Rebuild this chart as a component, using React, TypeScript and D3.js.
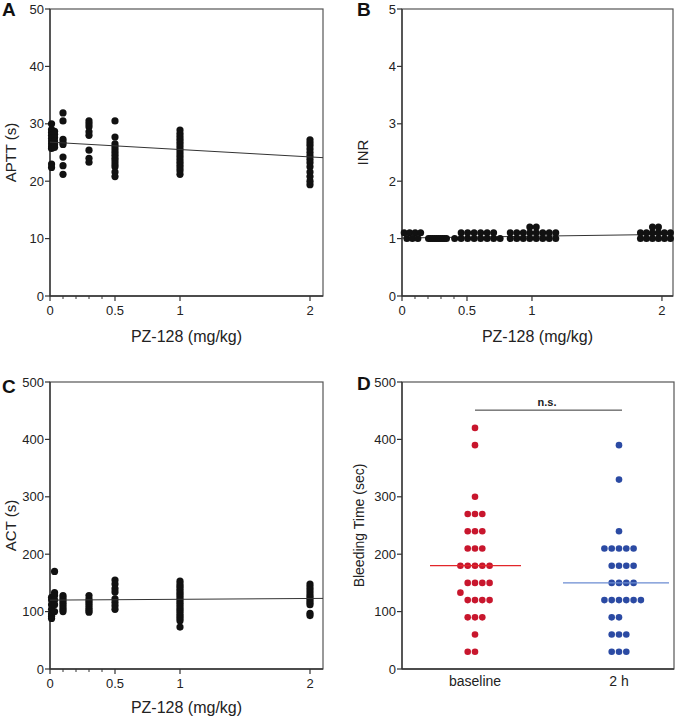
import React from 'react';
import * as d3 from 'd3';

const FONT = "'Liberation Sans', Arial, Helvetica, sans-serif";

// ---------- shared dose axis ----------
const doseTicks = [0, 0.5, 1, 2];
const doseMinorTicks = [0.1, 0.2, 0.3, 0.4];
const scatterDoses = [0.012, 0.035, 0.1, 0.3, 0.5, 1, 2];

// ---------- Panel A: APTT ----------
const apttTicks = [0, 10, 20, 30, 40, 50];
const apttValues = [
  [30.0, 29.0, 28.5, 28.0, 27.5, 27.0, 26.5, 26.0, 25.7, 23.0, 22.4],
  [28.7, 28.2, 27.6, 27.0, 26.4, 25.9],
  [31.9, 30.5, 27.3, 26.8, 26.4, 24.2, 22.7, 21.2],
  [30.5, 30.0, 29.5, 28.6, 28.0, 25.4, 24.0, 23.3],
  [30.5, 27.7, 26.5, 26.0, 25.5, 25.0, 24.5, 24.0, 23.5, 23.0, 22.5, 21.6, 20.8],
  [28.9, 28.3, 27.8, 27.3, 26.8, 26.3, 25.8, 25.3, 24.8, 24.3, 23.8, 23.3, 22.8, 22.3, 21.8, 21.2],
  [27.2, 26.7, 26.2, 25.6, 25.0, 24.4, 23.8, 23.2, 22.5, 21.6, 20.8, 20.0, 19.4],
];
const apttFit = [26.8, 24.1]; // fitted value at dose 0 and at axis end

// ---------- Panel B: INR ----------
const inrTicks = [0, 1, 2, 3, 4, 5];
const inrGroupDoses = [0.08, 0.273, 0.58, 1.008, 1.95];
const inrValues = [
  [1.1, 1.1, 1.1, 1.1, 1.0, 1.0, 1.0],
  [1.0, 1.0, 1.0, 1.0, 1.0, 1.0, 1.0, 1.0, 1.0, 1.0],
  [1.1, 1.1, 1.1, 1.1, 1.1, 1.1, 1.0, 1.0, 1.0, 1.0, 1.0, 1.0, 1.0, 1.0],
  [1.2, 1.2, 1.1, 1.1, 1.1, 1.1, 1.1, 1.1, 1.1, 1.1, 1.0, 1.0, 1.0, 1.0, 1.0, 1.0, 1.0, 1.0],
  [1.2, 1.2, 1.1, 1.1, 1.1, 1.1, 1.1, 1.1, 1.0, 1.0, 1.0, 1.0, 1.0, 1.0],
];
const inrFit = [1.01, 1.075];

// ---------- Panel C: ACT ----------
const actTicks = [0, 100, 200, 300, 400, 500];
const actValues = [
  [125, 120, 112, 104, 96, 92, 88],
  [170, 133, 128, 120, 112, 100],
  [128, 124, 120, 116, 112, 108, 104, 100],
  [128, 122, 118, 114, 110, 106, 102, 99],
  [155, 148, 140, 134, 122, 116, 110, 104],
  [153, 148, 144, 140, 136, 132, 128, 124, 120, 116, 112, 108, 104, 100, 96, 92, 88, 84, 73],
  [148, 143, 138, 133, 128, 124, 120, 116, 112, 97, 93],
];
const actFit = [120, 123];

// ---------- Panel D: Bleeding time ----------
const bleedCategories = ['baseline', '2 h'];
const bleedTicks = [0, 100, 200, 300, 400, 500];
const bleedBaseline = [420, 390, 300, 270, 270, 270, 240, 240, 240, 210, 210, 210,
  180, 180, 180, 180, 180, 150, 150, 150, 150, 133, 120, 120, 120, 120, 90, 90, 90, 60, 30, 30];
const bleed2h = [390, 330, 240, 210, 210, 210, 210, 210, 180, 180, 180, 180, 150, 150, 150, 150,
  120, 120, 120, 120, 120, 120, 90, 90, 60, 60, 60, 30, 30, 30];
const bleedMedians = [180, 150];
const bleedColors = ['#c8162d', '#2b4aa3'];
const medianColors = ['#e2262a', '#6b8bd2'];

type F = { l: number; t: number; r: number; b: number };

function Axes({ f, y, yTicks, x, xTicks, minor }: any) {
  return (
    <g>
      <rect x={f.l} y={f.t} width={f.r - f.l} height={f.b - f.t} fill="none" stroke="#555" strokeWidth={1.2} />
      <line x1={f.l} x2={f.l} y1={f.t} y2={f.b} stroke="#333" strokeWidth={1.3} />
      <line x1={f.l} x2={f.r} y1={f.b} y2={f.b} stroke="#333" strokeWidth={1.3} />
      {yTicks.map((v: number) => (
        <g key={'y' + v}>
          <line x1={f.l - 5} x2={f.l} y1={y(v)} y2={y(v)} stroke="#333" strokeWidth={1.2} />
          <text x={f.l - 6} y={y(v)} textAnchor="end" dominantBaseline="central" fontSize={13} fill="#222">{v}</text>
        </g>
      ))}
      {xTicks &&
        xTicks.map((v: number) => (
          <g key={'x' + v}>
            <line x1={x(v)} x2={x(v)} y1={f.b} y2={f.b + 5} stroke="#333" strokeWidth={1.2} />
            <text x={x(v)} y={f.b + 19} textAnchor="middle" fontSize={13} fill="#222">{String(v)}</text>
          </g>
        ))}
      {minor &&
        minor.map((v: number) => (
          <line key={'m' + v} x1={x(v)} x2={x(v)} y1={f.b} y2={f.b + 3} stroke="#333" strokeWidth={1} />
        ))}
    </g>
  );
}

function swarm(values: number[], cx: number, y: (v: number) => number, step: number) {
  const sorted = [...values].sort((a, b) => b - a);
  const placed: { x: number; y: number }[] = [];
  const order = [0, -1, 1, 2, -2, 3, -3, 4, -4, 5, -5];
  for (const v of sorted) {
    const py = y(v);
    for (const k of order) {
      const px = cx + k * step;
      if (!placed.some((p) => Math.abs(p.x - px) < step - 0.5 && Math.abs(p.y - py) < 10)) {
        placed.push({ x: px, y: py });
        break;
      }
    }
  }
  return placed;
}

function rowSpread(values: number[], cx: number, x: any, y: any, spacing: number) {
  const rows = d3.groups(values, (v) => v);
  const pts: { x: number; y: number }[] = [];
  rows.forEach(([v, arr]) => {
    const n = arr.length;
    arr.forEach((_, i) => pts.push({ x: cx + (i - (n - 1) / 2) * spacing, y: y(v) }));
  });
  return pts;
}

export default function App() {
  const fA: F = { l: 50, t: 9, r: 323, b: 296 };
  const fB: F = { l: 402, t: 9, r: 673, b: 296 };
  const fC: F = { l: 50, t: 382, r: 323, b: 669 };
  const fD: F = { l: 402, t: 382, r: 674, b: 669 };

  const xA = d3.scaleLinear().domain([0, 2.1]).range([fA.l, fA.r]);
  const yA = d3.scaleLinear().domain([0, 50]).range([fA.b, fA.t]);
  const xB = d3.scaleLinear().domain([0, 2.085]).range([fB.l, fB.r]);
  const yB = d3.scaleLinear().domain([0, 5]).range([fB.b, fB.t]);
  const xC = d3.scaleLinear().domain([0, 2.1]).range([fC.l, fC.r]);
  const yC = d3.scaleLinear().domain([0, 500]).range([fC.b, fC.t]);
  const xD = d3.scalePoint<string>().domain(bleedCategories).range([fD.l + 73, fD.r - 55]);
  const yD = d3.scaleLinear().domain([0, 500]).range([fD.b, fD.t]);

  const line = d3.line<[number, number]>();
  const inrSpacing = [5.5, 2, 6.5, 6.5, 6];

  const dotsA = scatterDoses.flatMap((d, i) => apttValues[i].map((v) => ({ x: xA(d), y: yA(v) })));
  const dotsC = scatterDoses.flatMap((d, i) => actValues[i].map((v) => ({ x: xC(d), y: yC(v) })));
  const dotsB = inrGroupDoses.flatMap((d, i) => rowSpread(inrValues[i], xB(d), xB, yB, inrSpacing[i]));
  const bleedSeries = [bleedBaseline, bleed2h];
  const medianExt = [[-45, 46], [-56, 50]];

  const yLabel = (x: number, y: number, txt: string, size = 15) => (
    <text x={x} y={y} transform={`rotate(-90 ${x} ${y})`} textAnchor="middle" dominantBaseline="central" fontSize={size} fill="#222">{txt}</text>
  );
  const letter = (x: number, y: number, t: string) => (
    <text x={x} y={y} fontSize={19} fontWeight="bold" fill="#111">{t}</text>
  );

  return (
    <svg width={676} height={719} style={{ position: 'absolute', left: 0, top: 0, background: '#fff' }} fontFamily={FONT}>
      <rect width={676} height={719} fill="#fff" />
      {/* Panel A */}
      <Axes f={fA} y={yA} yTicks={apttTicks} x={xA} xTicks={doseTicks} minor={doseMinorTicks} />
      {dotsA.map((p, i) => <circle key={'a' + i} cx={p.x} cy={p.y} r={3.6} fill="#111" />)}
      <path d={line([[xA(0), yA(apttFit[0])], [xA(2.1), yA(apttFit[1])]]) || ''} stroke="#333" strokeWidth={1} fill="none" />
      {yLabel(10, (fA.t + fA.b) / 2, 'APTT (s)')}
      <text x={(fA.l + fA.r) / 2} y={342} textAnchor="middle" fontSize={16} fill="#222">PZ-128 (mg/kg)</text>
      {letter(2, 16, 'A')}

      {/* Panel B */}
      <Axes f={fB} y={yB} yTicks={inrTicks} x={xB} xTicks={doseTicks} minor={doseMinorTicks} />
      <path d={line([[xB(0), yB(inrFit[0])], [xB(2.085), yB(inrFit[1])]]) || ''} stroke="#333" strokeWidth={1} fill="none" />
      {dotsB.map((p, i) => <circle key={'b' + i} cx={p.x} cy={p.y} r={3.5} fill="#111" />)}
      {yLabel(362, (fB.t + fB.b) / 2, 'INR')}
      <text x={(fB.l + fB.r) / 2} y={342} textAnchor="middle" fontSize={16} fill="#222">PZ-128 (mg/kg)</text>
      {letter(357, 16, 'B')}

      {/* Panel C */}
      <Axes f={fC} y={yC} yTicks={actTicks} x={xC} xTicks={doseTicks} minor={doseMinorTicks} />
      {dotsC.map((p, i) => <circle key={'c' + i} cx={p.x} cy={p.y} r={3.6} fill="#111" />)}
      <path d={line([[xC(0), yC(actFit[0])], [xC(2.1), yC(actFit[1])]]) || ''} stroke="#333" strokeWidth={1} fill="none" />
      {yLabel(10, (fC.t + fC.b) / 2, 'ACT (s)')}
      <text x={(fC.l + fC.r) / 2} y={713} textAnchor="middle" fontSize={16} fill="#222">PZ-128 (mg/kg)</text>
      {letter(2, 393, 'C')}

      {/* Panel D */}
      <Axes f={fD} y={yD} yTicks={bleedTicks} />
      {bleedCategories.map((c, ci) => {
        const cx = xD(c) as number;
        const pts = swarm(bleedSeries[ci], cx, yD, 7.3);
        return (
          <g key={c}>
            {pts.map((p, i) => <circle key={i} cx={p.x} cy={p.y} r={3.3} fill={bleedColors[ci]} />)}
            <line x1={cx + medianExt[ci][0]} x2={cx + medianExt[ci][1]} y1={yD(bleedMedians[ci])} y2={yD(bleedMedians[ci])} stroke={medianColors[ci]} strokeWidth={1.3} />
            <text x={cx} y={686} textAnchor="middle" fontSize={14} fill="#222">{c}</text>
          </g>
        );
      })}
      <line x1={xD('baseline') as number} x2={(xD('2 h') as number) + 3} y1={yD(451)} y2={yD(451)} stroke="#333" strokeWidth={1} />
      <text x={((xD('baseline') as number) + (xD('2 h') as number)) / 2} y={405.5} textAnchor="middle" fontSize={11} fontWeight="bold" fill="#222">n.s.</text>
      {yLabel(359, (fD.t + fD.b) / 2, 'Bleeding Time (sec)', 14)}
      {letter(357, 390, 'D')}
    </svg>
  );
}
